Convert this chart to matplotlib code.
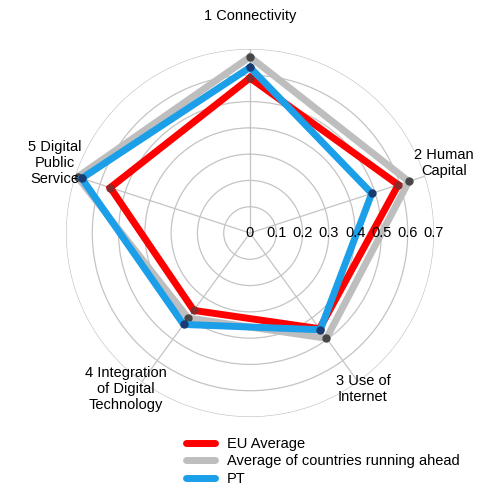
import numpy as np
import matplotlib
matplotlib.use("Agg")
import matplotlib.pyplot as plt

plt.rcParams['font.family'] = ['Liberation Sans', 'DejaVu Sans']

categories = ["1 Connectivity", "2 Human\nCapital", "3 Use of\nInternet",
              "4 Integration\nof Digital\nTechnology", "5 Digital\nPublic\nService"]
eu_average = [0.59, 0.593, 0.45, 0.364, 0.559]
ahead_average = [0.67, 0.635, 0.495, 0.40, 0.69]
pt_values = [0.63, 0.487, 0.455, 0.43, 0.673]
r_ticks = [0, 0.1, 0.2, 0.3, 0.4, 0.5, 0.6, 0.7]


def main():
    fig = plt.figure(figsize=(5, 5), dpi=100)
    ax = fig.add_axes([0.132, 0.166, 0.736, 0.736], polar=True)
    ax.set_theta_offset(np.pi / 2)
    ax.set_theta_direction(-1)

    n = len(categories)
    angles = np.linspace(0, 2 * np.pi, n, endpoint=False)
    closed = np.append(angles, angles[0])

    series = [
        ("EU Average", eu_average, "#ff0000", "#8b2a2a", 3),
        ("Average of countries running ahead", ahead_average, "#bebebe", "#474747", 2),
        ("PT", pt_values, "#1a9fe8", "#1b3a70", 4),
    ]
    for name, vals, col, mcol, z in series:
        v = np.append(vals, vals[0])
        ax.plot(closed, v, color=col, lw=5, label=name, zorder=z,
                solid_joinstyle="miter")
        ax.plot(angles, vals, "o", color=mcol, ms=5, zorder=z + 0.5)

    ax.set_ylim(0, 0.7)
    ax.set_yticks(r_ticks[1:])
    ax.set_yticklabels([])
    ax.set_xticks(angles)
    ax.set_xticklabels([])
    ax.grid(True, color="#c4c4c4", lw=0.9)
    ax.spines["polar"].set_visible(False)

    for r in r_ticks:
        ax.text(np.pi / 2, r, str(r), ha="center", va="center", fontsize=10.5,
                zorder=6)

    label_pos = [(0.0, 0.825), (70.2, 0.784), (144.1, 0.733), (218.5, 0.757), (289.7, 0.79)]
    for lab, (th, r) in zip(categories, label_pos):
        ax.text(np.deg2rad(th), r, lab, ha="center", va="center", fontsize=10.5,
                linespacing=1.2, clip_on=False)

    leg = fig.legend(loc="center", bbox_to_anchor=(0.645, 0.077), frameon=False,
                     fontsize=10.5, handlelength=2.0, handletextpad=0.8,
                     labelspacing=0.25)
    for line in leg.get_lines():
        line.set_linewidth(5)
        line.set_solid_capstyle("round")

    plt.savefig("out.png", dpi=100)


if __name__ == "__main__":
    main()
